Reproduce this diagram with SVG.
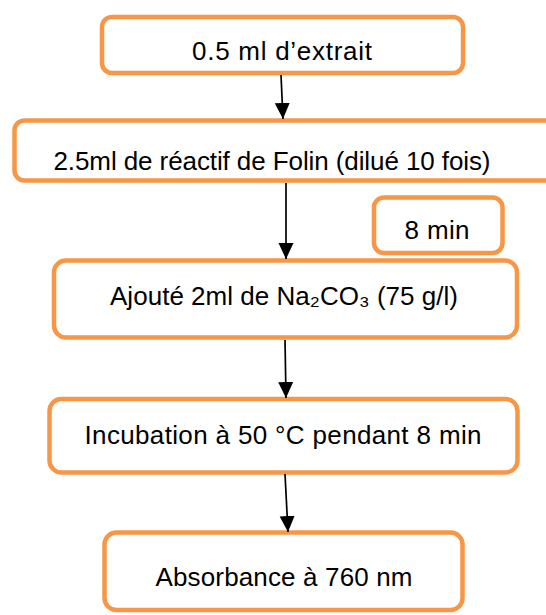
<svg xmlns="http://www.w3.org/2000/svg" width="546" height="615" viewBox="0 0 546 615">
<style>
.box{fill:#fff;stroke:#F79646;stroke-width:4.5}
.t{font-family:"Liberation Sans","Open Sans",sans-serif;font-size:26px;fill:#000;text-anchor:middle}
.c{stroke:#000;stroke-width:1.7;fill:none}
</style>
<defs>
<marker id="ah" markerUnits="userSpaceOnUse" markerWidth="18" markerHeight="18" viewBox="0 0 18 18" refX="16" refY="9" orient="auto">
<path d="M0,1.5 L16,9 L0,16.5 Z" fill="#000"/>
</marker>
</defs>
<rect width="546" height="615" fill="#fff"/>
<g id="n1"><rect class="box" x="102" y="17" width="361" height="56" rx="10"/><text class="t" x="282" y="60" textLength="180">0.5 ml d’extrait</text></g>
<g id="n2"><rect class="box" x="14.5" y="120.5" width="545" height="60" rx="10"/><text class="t" x="272" y="170" textLength="437">2.5ml de réactif de Folin (dilué 10 fois)</text></g>
<g id="n3"><rect class="box" x="374" y="197.5" width="128.5" height="55.5" rx="10"/><text class="t" x="437" y="239" textLength="65">8 min</text></g>
<g id="n4"><rect class="box" x="54" y="260.5" width="463" height="77" rx="12"/><text class="t" x="284" y="305" textLength="348">Ajouté 2ml de Na₂CO₃ (75 g/l)</text></g>
<g id="n5"><rect class="box" x="49.5" y="399" width="468" height="73.5" rx="12"/><text class="t" x="283" y="444" textLength="397">Incubation à 50 °C pendant 8 min</text></g>
<g id="n6"><rect class="box" x="104.5" y="532.5" width="358" height="77.5" rx="12"/><text class="t" x="284" y="586" textLength="257">Absorbance à 760 nm</text></g>
<g id="connectors">
<line class="c" x1="281" y1="75" x2="283" y2="119" marker-end="url(#ah)"/>
<line class="c" x1="286" y1="183" x2="286" y2="259" marker-end="url(#ah)"/>
<line class="c" x1="285" y1="340" x2="286" y2="398" marker-end="url(#ah)"/>
<line class="c" x1="285" y1="474" x2="288" y2="532" marker-end="url(#ah)"/>
</g>
</svg>
